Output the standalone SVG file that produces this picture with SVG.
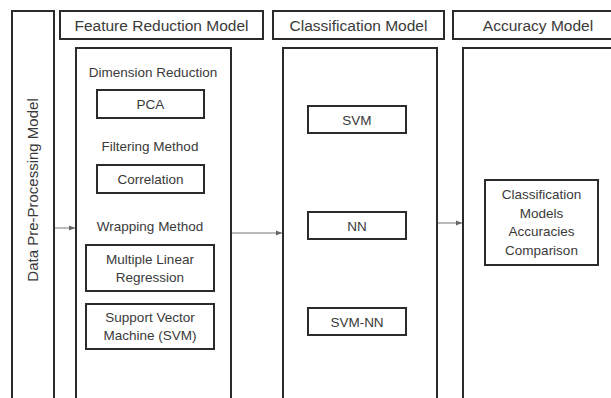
<svg xmlns="http://www.w3.org/2000/svg" width="611" height="398" viewBox="0 0 611 398">
<defs>
<marker id="ah" viewBox="0 0 10 10" refX="10" refY="5" markerWidth="6" markerHeight="6" orient="auto" markerUnits="userSpaceOnUse">
<path d="M0,1 L10,5 L0,9 z" fill="#666"/>
</marker>
<style>
.box{fill:#fff;stroke:#2b2b2b;stroke-width:2}
.t{font-family:"Liberation Sans",Arial,sans-serif;fill:#3a3a3a;text-anchor:middle}
.h{font-size:15.5px}
.v{font-size:15px}
.s{font-size:13.5px}
.c{stroke:#777;stroke-width:1;fill:none}
</style>
</defs>
<rect width="611" height="398" fill="#fff"/>
<g id="preprocessing">
<rect class="box" x="12" y="11" width="42" height="392"/>
<text class="t v" transform="translate(38,190) rotate(-90)">Data Pre-Processing Model</text>
</g>
<g id="feature-header">
<rect class="box" x="60" y="11" width="203" height="28"/>
<text class="t h" x="161.5" y="30.5">Feature Reduction Model</text>
</g>
<g id="classification-header">
<rect class="box" x="273" y="11" width="171" height="28"/>
<text class="t h" x="358.5" y="30.5">Classification Model</text>
</g>
<g id="accuracy-header">
<rect class="box" x="453" y="11" width="165" height="28"/>
<text class="t h" x="538" y="30.5">Accuracy Model</text>
</g>
<g id="feature-model">
<rect class="box" x="76" y="48" width="155" height="360"/>
<text class="t s" x="153" y="77">Dimension Reduction</text>
<text class="t s" x="150" y="151">Filtering Method</text>
<text class="t s" x="150" y="231">Wrapping Method</text>
</g>
<g id="pca">
<rect class="box" x="97" y="90" width="107" height="28"/>
<text class="t s" x="150.5" y="109">PCA</text>
</g>
<g id="correlation">
<rect class="box" x="97" y="165" width="107" height="28"/>
<text class="t s" x="150.5" y="184">Correlation</text>
</g>
<g id="mlr">
<rect class="box" x="86" y="245" width="128" height="46"/>
<text class="t s" x="150" y="264">Multiple Linear</text>
<text class="t s" x="150" y="282">Regression</text>
</g>
<g id="svm-wrap">
<rect class="box" x="86" y="304" width="128" height="45"/>
<text class="t s" x="150" y="322">Support Vector</text>
<text class="t s" x="150" y="340">Machine (SVM)</text>
</g>
<g id="classification-model">
<rect class="box" x="283" y="48" width="154" height="360"/>
</g>
<g id="svm">
<rect class="box" x="308" y="106" width="98" height="27"/>
<text class="t s" x="357" y="124.5">SVM</text>
</g>
<g id="nn">
<rect class="box" x="308" y="212" width="98" height="27"/>
<text class="t s" x="357" y="230.5">NN</text>
</g>
<g id="svm-nn">
<rect class="box" x="308" y="308" width="98" height="27"/>
<text class="t s" x="357" y="326.5">SVM-NN</text>
</g>
<g id="accuracy-model">
<rect class="box" x="463" y="48" width="160" height="360"/>
</g>
<g id="comparison">
<rect class="box" x="485" y="180" width="113" height="85"/>
<text class="t s" x="541.5" y="199">Classification</text>
<text class="t s" x="541.5" y="217.5">Models</text>
<text class="t s" x="541.5" y="236">Accuracies</text>
<text class="t s" x="541.5" y="254.5">Comparison</text>
</g>
<g id="connectors">
<line class="c" x1="55" y1="228" x2="75" y2="228" marker-end="url(#ah)"/>
<line class="c" x1="232" y1="233" x2="282" y2="233" marker-end="url(#ah)"/>
<line class="c" x1="438" y1="223" x2="462" y2="223" marker-end="url(#ah)"/>
</g>
</svg>
